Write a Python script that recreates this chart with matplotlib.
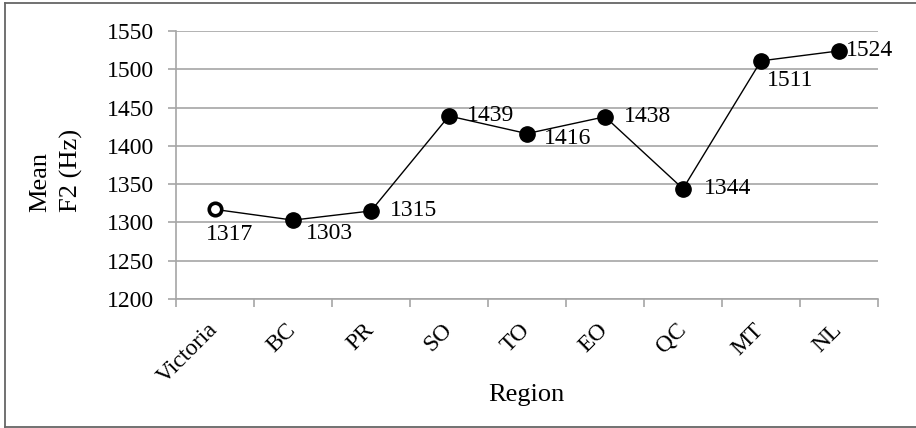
import matplotlib.pyplot as plt
from matplotlib.lines import Line2D
from matplotlib.transforms import offset_copy

regions = ["Victoria", "BC", "PR", "SO", "TO", "EO", "QC", "MT", "NL"]
mean_f2 = [1317, 1303, 1315, 1439, 1416, 1438, 1344, 1511, 1524]
# label offsets in pixels (dx, dy) from each point
label_dx = [15, 37, 43, 42, 41, 43, 45, 29, 31]
label_dy = [-25, -13, 0, 0, -5, 0, 0, -20, 0]

plt.rcParams["font.family"] = ["Liberation Serif", "DejaVu Serif"]
grey = "#a6a6a6"
fs = 17

fig = plt.figure(figsize=(9.16, 4.28), dpi=100)
ax = fig.add_axes([0.1921, 0.3014, 0.7664, 0.6262])

x = list(range(len(regions)))
ax.plot(x, mean_f2, color="black", lw=1, zorder=3)
ax.plot(x[1:], mean_f2[1:], "o", color="black", ms=11, zorder=4)
ax.plot(x[0], mean_f2[0], "o", mfc="white", mec="black", mew=2.6, ms=9, zorder=4)

for i, v in enumerate(mean_f2):
    tr = offset_copy(ax.transData, fig=fig, x=label_dx[i], y=label_dy[i], units="dots")
    ax.text(x[i], v, str(v), transform=tr, ha="center", va="center", fontsize=fs)

ax.set_xlim(-0.5, len(regions) - 0.5)
ax.set_ylim(1200, 1550)
ax.set_yticks(range(1200, 1551, 50))
ax.yaxis.grid(True, color=grey, lw=1.2)
ax.set_axisbelow(True)

ax.set_xticks([i - 0.5 for i in range(len(regions) + 1)])
ax.set_xticklabels([])
ax.set_xticks(x, minor=True)
ax.set_xticklabels(regions, minor=True, rotation=45, ha="right", va="center",
                   rotation_mode="anchor", fontsize=fs)
ax.tick_params(axis="x", which="minor", length=0, pad=20)
ax.tick_params(axis="x", which="major", length=6, color=grey, width=1.2)
ax.tick_params(axis="y", length=6, color=grey, width=1.2, labelsize=fs, pad=10)

for s in ["top", "right"]:
    ax.spines[s].set_visible(False)
for s in ["left", "bottom"]:
    ax.spines[s].set_color(grey)
    ax.spines[s].set_linewidth(1.2)

fig.text(56 / 916, 1 - 170 / 428, "Mean\nF2 (Hz)", rotation=90, ha="center", va="center",
         multialignment="left", fontsize=19, linespacing=1.5)
fig.text(526 / 916, 1 - 395 / 428, "Region", ha="center", va="center", fontsize=19)

# outer border (right side is cropped in the reference)
bc = "#666666"
fig.add_artist(Line2D([5 / 916, 5 / 916], [1 - 427 / 428, 1 - 2.5 / 428], color=bc, lw=1.3))
fig.add_artist(Line2D([5 / 916, 1], [1 - 2.5 / 428, 1 - 2.5 / 428], color=bc, lw=1.3))
fig.add_artist(Line2D([5 / 916, 1], [1 - 427 / 428, 1 - 427 / 428], color=bc, lw=1.3))

fig.savefig("out.png", dpi=100)
